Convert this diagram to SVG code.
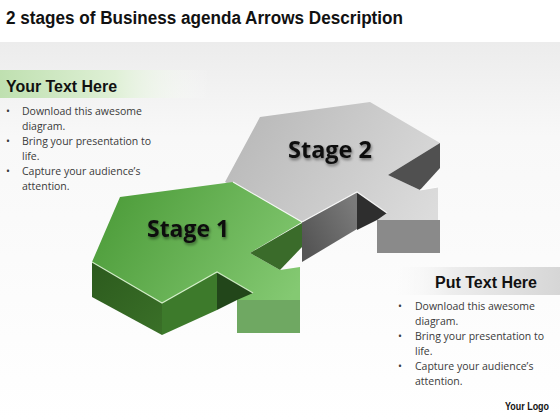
<svg xmlns="http://www.w3.org/2000/svg" width="560" height="420" viewBox="0 0 560 420">
<defs>
<linearGradient id="bg" x1="0" y1="0" x2="0" y2="1"><stop offset="0" stop-color="#ececec"/><stop offset="0.25" stop-color="#f8f8f8"/><stop offset="1" stop-color="#ffffff"/></linearGradient>
<linearGradient id="hdrG" x1="0" y1="0" x2="1" y2="0"><stop offset="0" stop-color="#bfe0b0"/><stop offset="0.55" stop-color="#dff0d6"/><stop offset="1" stop-color="#ffffff" stop-opacity="0"/></linearGradient>
<linearGradient id="hdrR" x1="0" y1="0" x2="1" y2="0"><stop offset="0" stop-color="#ffffff" stop-opacity="0"/><stop offset="0.4" stop-color="#ededed"/><stop offset="1" stop-color="#d6d6d6"/></linearGradient>
<linearGradient id="gTop" gradientUnits="userSpaceOnUse" x1="120" y1="190" x2="290" y2="300"><stop offset="0" stop-color="#4f9e3c"/><stop offset="1" stop-color="#84c972"/></linearGradient>
<linearGradient id="sTop" gradientUnits="userSpaceOnUse" x1="260" y1="105" x2="430" y2="220"><stop offset="0" stop-color="#bababa"/><stop offset="1" stop-color="#dcdcdc"/></linearGradient>
<linearGradient id="gSide" gradientUnits="userSpaceOnUse" x1="92" y1="262" x2="162" y2="335"><stop offset="0" stop-color="#2c5a1d"/><stop offset="1" stop-color="#3a7028"/></linearGradient>
<linearGradient id="sFront" gradientUnits="userSpaceOnUse" x1="302" y1="240" x2="357" y2="210"><stop offset="0" stop-color="#555"/><stop offset="1" stop-color="#7a7a7a"/></linearGradient>
<filter id="ts" x="-10%" y="-20%" width="130%" height="160%"><feGaussianBlur in="SourceAlpha" stdDeviation="1.5"/><feOffset dx="1" dy="2" result="b"/><feComponentTransfer><feFuncA type="linear" slope="0.45"/></feComponentTransfer><feMerge><feMergeNode/><feMergeNode in="SourceGraphic"/></feMerge></filter>
<style>
.t{font-family:"Liberation Sans",Arial,sans-serif;fill:#111;font-weight:bold}
.b{font-family:"Open Sans","Liberation Sans",sans-serif;font-size:10.5px;fill:#3a3a3a}
.st{font-family:"Open Sans","Liberation Sans",sans-serif;font-size:24px;font-weight:bold;fill:#111}
.hl{fill:none;stroke:#eaffe0;stroke-width:1.2;stroke-opacity:0.8}
.hs{fill:none;stroke:#ffffff;stroke-width:1.2;stroke-opacity:0.9}
</style>
</defs>
<rect width="560" height="420" fill="#ffffff"/>
<rect x="0" y="42" width="560" height="378" fill="url(#bg)"/>
<g id="title"><text class="t" x="6" y="24" font-size="18" textLength="397" lengthAdjust="spacingAndGlyphs">2 stages of Business agenda Arrows Description</text></g>
<g id="panel-left">
<rect x="0" y="70" width="210" height="28" fill="url(#hdrG)"/>
<text class="t" x="6" y="92" font-size="16" textLength="111" lengthAdjust="spacingAndGlyphs">Your Text Here</text>
<g class="b">
<text x="6" y="115">•</text><text x="22" y="115">Download this awesome</text>
<text x="22" y="130">diagram.</text>
<text x="6" y="145">•</text><text x="22" y="145">Bring your presentation to</text>
<text x="22" y="160">life.</text>
<text x="6" y="175">•</text><text x="22" y="175">Capture your audience’s</text>
<text x="22" y="190">attention.</text>
</g>
</g>
<g id="stage2">
<polygon points="225,182 260,117 370,102 440,143 388,175 420,190 438,187 438,220 377,220 357,192 302,222" fill="url(#sTop)"/>
<polygon points="302,222 357,192 357,229 302,262" fill="url(#sFront)"/>
<polygon points="357,192 387,213 377,220 357,230" fill="#2e2e2e"/>
<polygon points="388,175 440,143 440,168 420,190" fill="#505050"/>
<polygon points="377,220 440,220 440,253 377,253" fill="#8a8a8a"/>
<polyline class="hs" points="302,222 357,192 387,213"/>
<polyline class="hs" points="420,190 438,187"/>
<text class="st" x="288" y="158" textLength="84" lengthAdjust="spacingAndGlyphs" filter="url(#ts)">Stage 2</text>
</g>
<g id="stage1">
<polygon points="92,262 120,197 233,182 302,222 250,253 280,270 300,267 300,300 237,300 217,272 162,303" fill="url(#gTop)"/>
<polygon points="92,262 162,303 162,335 92,297" fill="url(#gSide)"/>
<polygon points="162,303 217,272 217,310 162,335" fill="#3d7a2b"/>
<polygon points="217,272 253,293 237,300 217,310" fill="#22461a"/>
<polygon points="250,253 302,223 302,247 280,270" fill="#3a6b2a"/>
<polygon points="237,300 300,300 300,333 237,333" fill="#6fa862"/>
<polyline class="hl" points="92,262 162,303 217,272 253,293"/>
<polyline class="hs" points="233,182 302,222"/>
<text class="st" x="147" y="237" textLength="82" lengthAdjust="spacingAndGlyphs" filter="url(#ts)">Stage 1</text>
</g>
<g id="panel-right">
<rect x="380" y="267" width="180" height="28" fill="url(#hdrR)"/>
<text class="t" x="435" y="288" font-size="16" textLength="102" lengthAdjust="spacingAndGlyphs">Put Text Here</text>
<g class="b">
<text x="398" y="310">•</text><text x="415" y="310">Download this awesome</text>
<text x="415" y="325">diagram.</text>
<text x="398" y="340">•</text><text x="415" y="340">Bring your presentation to</text>
<text x="415" y="355">life.</text>
<text x="398" y="370">•</text><text x="415" y="370">Capture your audience’s</text>
<text x="415" y="385">attention.</text>
</g>
</g>
<g id="logo"><text class="t" x="505" y="410" font-size="10" textLength="44" lengthAdjust="spacingAndGlyphs">Your Logo</text></g>
</svg>
